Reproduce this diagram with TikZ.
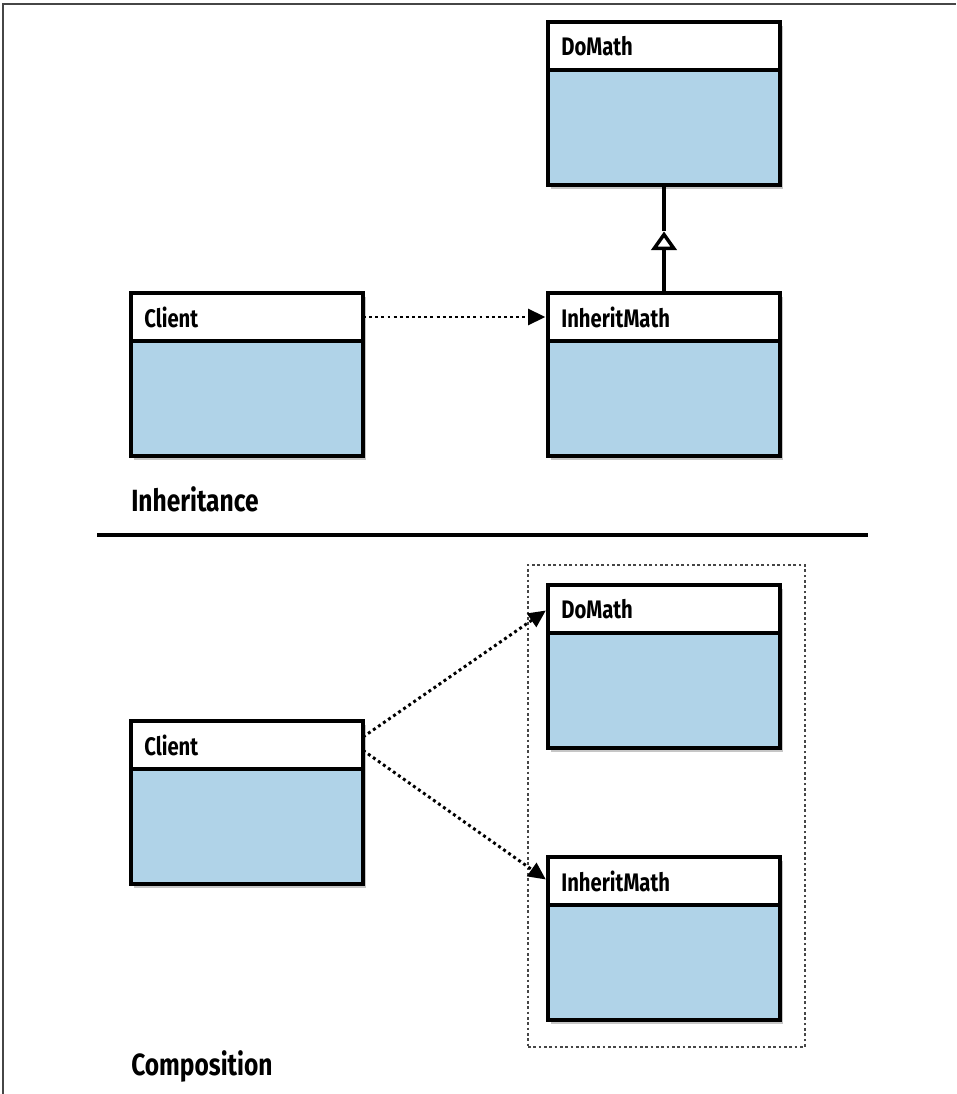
\documentclass[tikz,border=0pt]{standalone}
\usepackage{fontspec}
\setmainfont{Fira Sans}[FakeStretch=0.8]
\usetikzlibrary{positioning,arrows.meta,shadows,fit,calc}
\definecolor{classblue}{RGB}{176,211,232}
\definecolor{framegray}{RGB}{70,70,70}
\begin{document}
\begin{tikzpicture}[x=0.75pt,y=-0.75pt,
  shade/.style={drop shadow={opacity=0.45,shadow xshift=2.5pt,shadow yshift=-3pt}},
  head/.style={shade,draw,line width=2.4pt,fill=white,outer sep=0pt,minimum height=36pt,text width=154pt,inner xsep=10pt,align=left,font=\bfseries\fontsize{19}{22}\selectfont},
  body/.style={shade,draw,line width=2.4pt,fill=classblue,outer sep=0pt,minimum width=174pt,minimum height=86.25pt},
  dep/.style={line width=2.2pt,dash pattern=on 2.2pt off 2.4pt,shorten >=2pt,-{Triangle[length=13pt,width=12pt]}},
  gen/.style={line width=2.6pt,-{Triangle[open,length=14pt,width=19pt]}},
  group/.style={draw=framegray,line width=0.9pt,dash pattern=on 2pt off 2pt,inner sep=0pt},
  section/.style={anchor=base west,inner sep=0pt,font=\bfseries\fontsize{23}{27}\selectfont}]
\useasboundingbox (0,0) rectangle (956,1094);
\draw[framegray,line width=1.6pt] (3,1094)--(3,4)--(956,4);
% inheritance
\node[head,anchor=north west] (dm1) at (548,22) {DoMath};
\node[body,below=0pt of dm1] (dm1b) {};
\node[head,anchor=north west] (cl1) at (131,293) {Client};
\node[body,below=0pt of cl1] (cl1b) {};
\node[head,anchor=north west] (im1) at (548,293) {InheritMath};
\node[body,below=0pt of im1] (im1b) {};
\coordinate (tri) at ($(dm1b.south)!0.43!(im1.north)$);
\draw[gen] (im1.north)--(tri);
\draw[line width=2.6pt] (tri)--(dm1b.south);
\draw[dep] (cl1.east)--(im1.west);
\node[section] (inh) at (131,511) {Inheritance};
\draw[line width=2.6pt] (97,535)--(868,535);
% composition
\node[group,fit={(528,565) (805,1047)}] (grp) {};
\node[head,anchor=north west] (dm2) at (548,585) {DoMath};
\node[body,below=0pt of dm2] (dm2b) {};
\node[head,anchor=north west] (cl2) at (131,721) {Client};
\node[body,below=0pt of cl2] (cl2b) {};
\node[head,anchor=north west] (im2) at (548,857) {InheritMath};
\node[body,below=0pt of im2] (im2b) {};
\draw[dep] ([yshift=6pt]cl2.east)--(dm2.west);
\draw[dep] ([yshift=-4pt]cl2.east)--(im2.west);
\node[section] (comp) at (131,1075) {Composition};
\end{tikzpicture}
\end{document}
